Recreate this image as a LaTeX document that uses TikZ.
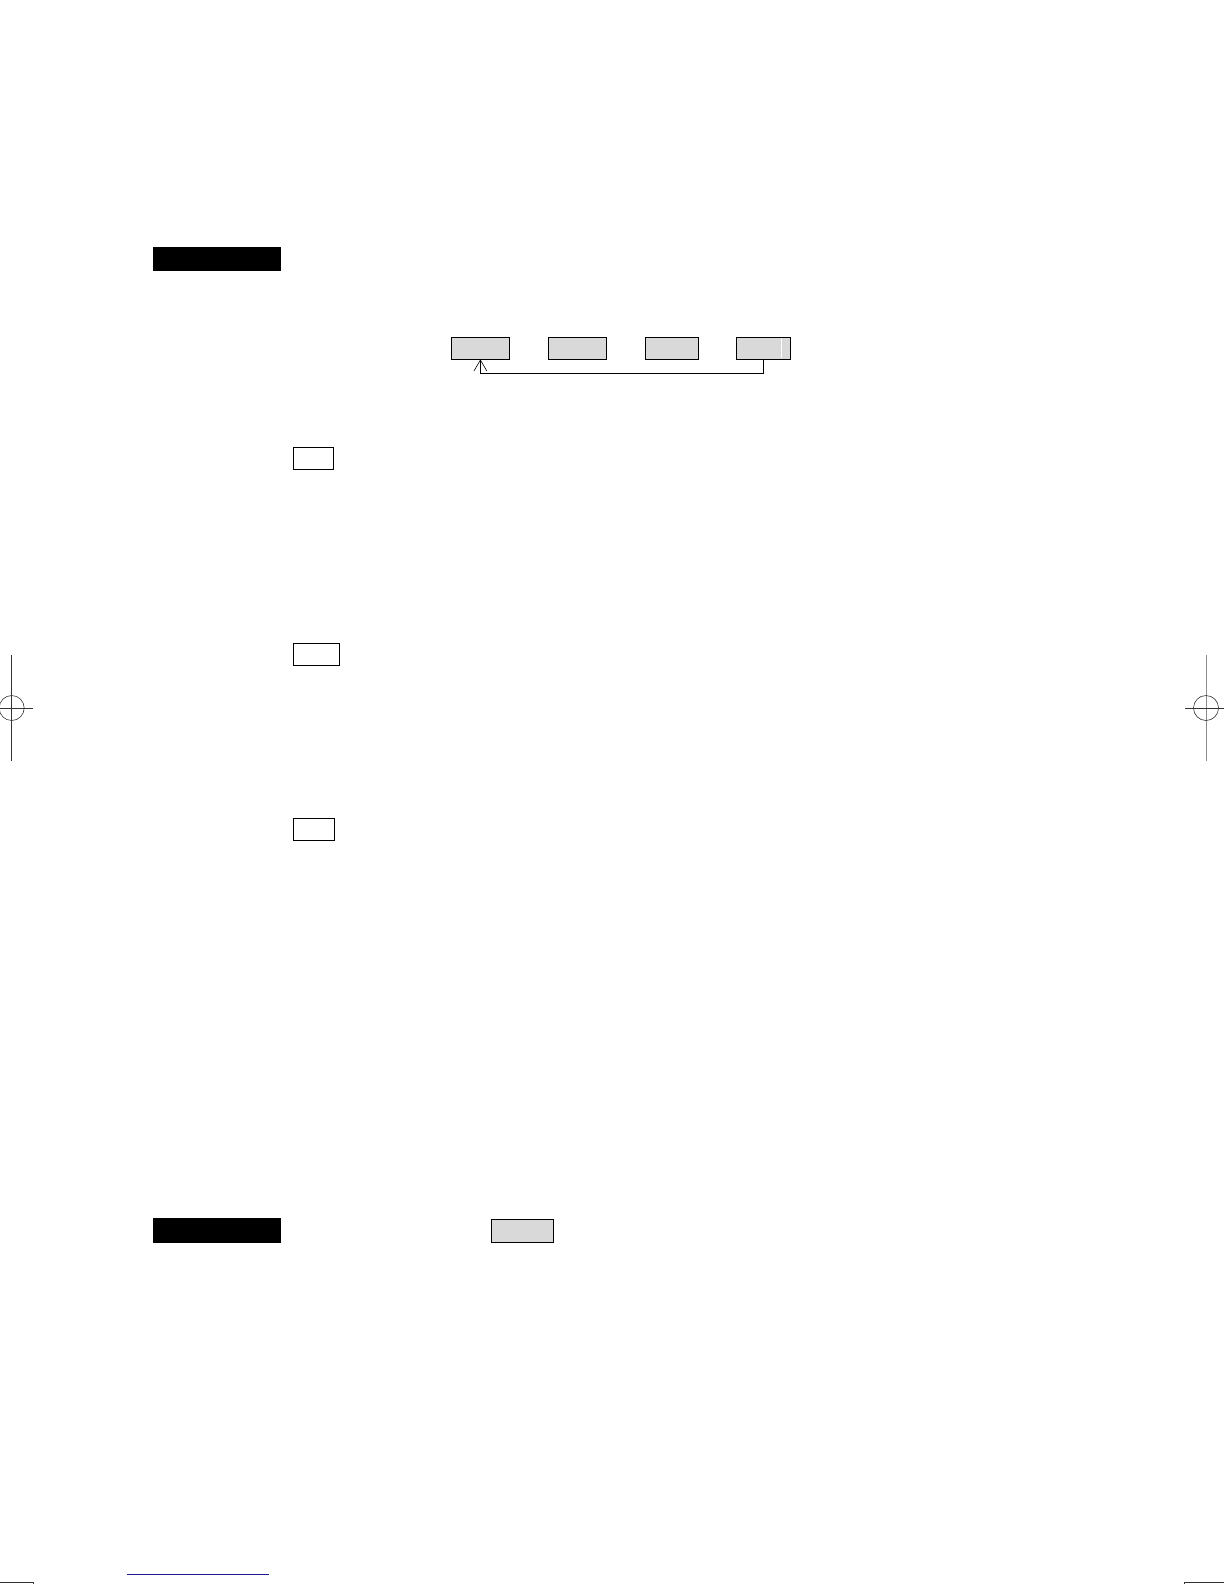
\documentclass[tikz,border=0pt]{standalone}
\usetikzlibrary{arrows.meta}
\definecolor{boxgray}{RGB}{217,217,217}
\definecolor{linkblue}{RGB}{30,30,140}
\begin{document}
\begin{tikzpicture}[x=1pt,y=-1pt,
  blackbar/.style={fill=black,draw=none,minimum width=128.5pt,minimum height=24pt,inner sep=0pt},
  graybox/.style={fill=boxgray,draw=black,line width=0.9pt,minimum height=22pt,inner sep=0pt},
  plainbox/.style={fill=white,draw=black,line width=0.9pt,minimum height=22pt,inner sep=0pt},
  conn/.style={draw=black,line width=0.8pt},
  regmark/.style={draw=black!80,line width=0.6pt}]
\useasboundingbox (0,0) rectangle (1224,1584);
% top black bar
\node[blackbar] (bar1) at (216.8,259.3) {};
% row of gray boxes
\node[graybox,minimum width=58pt] (b1) at (480.4,348) {};
\node[graybox,minimum width=57.7pt] (b2) at (577.2,348) {};
\node[graybox,minimum width=53pt] (b3) at (671.8,348) {};
\node[graybox,minimum width=54.7pt] (b4) at (763.3,348) {};
\draw[white,line width=1pt] (781,338) -- (781,358);
\draw[conn,-{Straight Barb[length=11pt,width=13pt,line width=0.6pt]}] (b4.south) -- ++(0,13.7) -| (b1.south);
% small white boxes
\node[plainbox,minimum width=40pt] (s1) at (313.3,458.3) {};
\node[plainbox,minimum width=46pt] (s2) at (316.3,654.3) {};
\node[plainbox,minimum width=41pt] (s3) at (313.8,829.3) {};
% bottom bar and gray box
\node[blackbar,minimum height=25pt] (bar2) at (216.8,1230.2) {};
\node[graybox,minimum width=62.3pt,minimum height=23.7pt] (g1) at (522.2,1230.8) {};
% registration marks
\draw[regmark] (11.7,655) -- (11.7,761);
\draw[regmark] (0,708) -- (33,708);
\draw[regmark] (11.7,708) circle (12.5);
\draw[regmark,draw=black!45] (1206,655) -- (1206,761);
\draw[regmark] (1185,708) -- (1224,708);
\draw[regmark] (1206,708) circle (12.5);
% footer
\draw[linkblue,line width=0.8pt] (127,1574.3) -- (269,1574.3);
\draw[regmark] (0,1582) -- (33,1582) -- (33,1584);
\draw[regmark] (1184,1584) -- (1184,1582) -- (1224,1582);
\end{tikzpicture}
\end{document}
